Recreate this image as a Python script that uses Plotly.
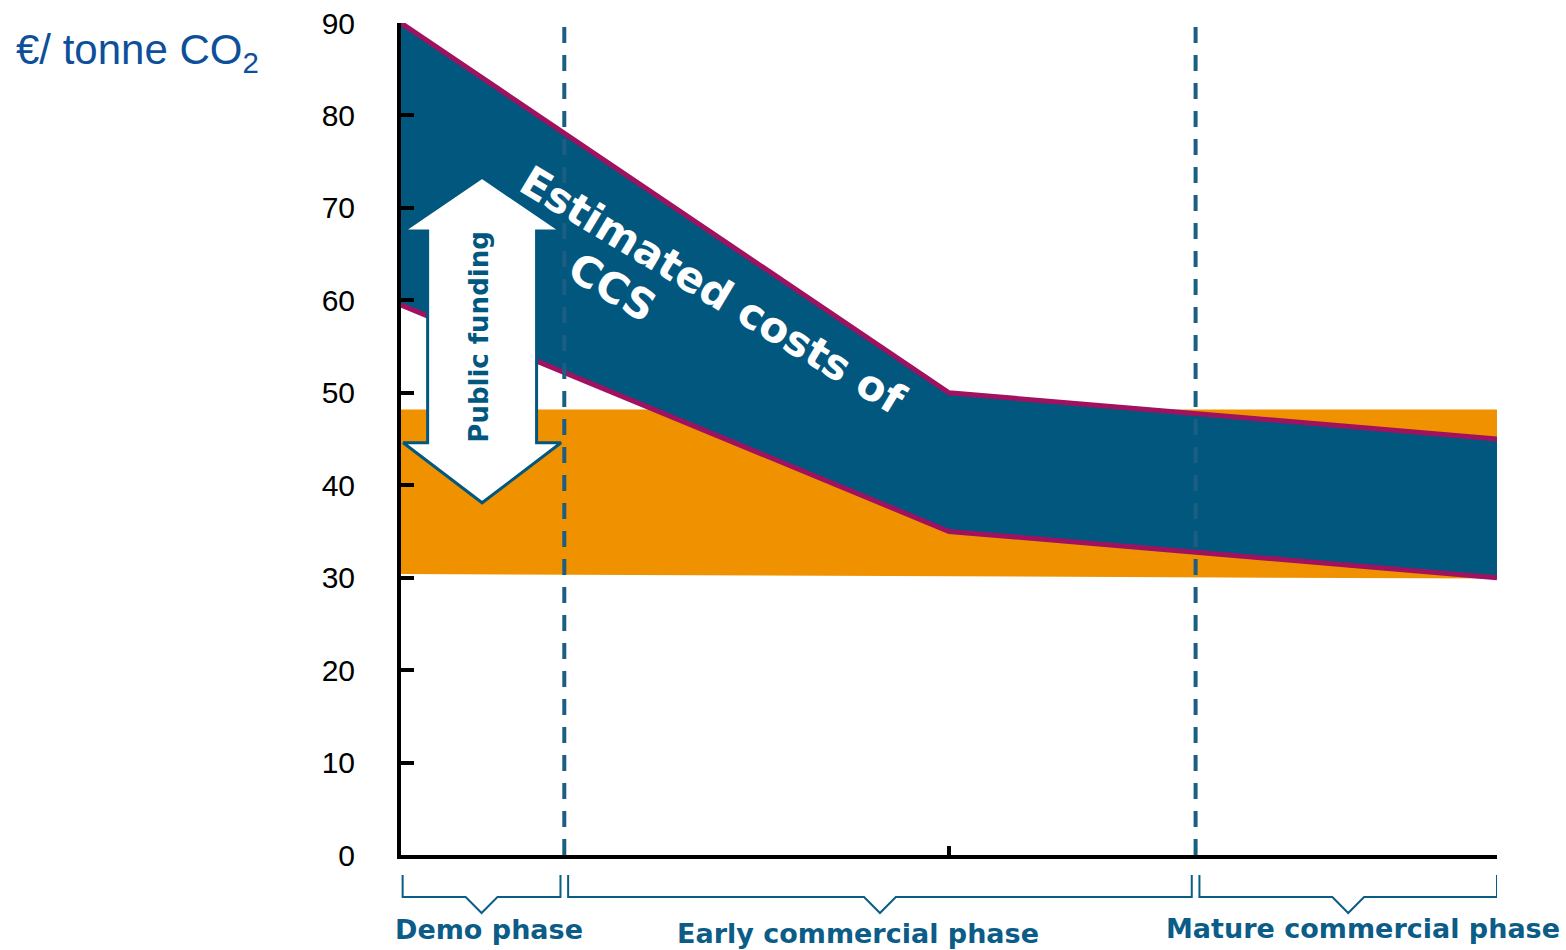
import plotly.graph_objects as go

# ---- data -------------------------------------------------------------
phase_x = [0, 50, 100]                 # start, knee, end of the time axis
ccs_high = [90, 50, 45]                # upper bound of estimated CCS cost (EUR/t CO2)
ccs_low = [59.5, 35, 30]               # lower bound of estimated CCS cost
co2_price_top = [48.2, 48.2]           # expected CO2 price band, top edge
co2_price_bottom = [30.4, 29.9]        # expected CO2 price band, bottom edge
phase_bounds = [0, 14.9, 72.5, 100]    # demo | early commercial | mature commercial
phase_labels = ["Demo phase", "Early commercial phase", "Mature commercial phase"]
y_ticks = [0, 10, 20, 30, 40, 50, 60, 70, 80, 90]

# public funding arrow (data units)
arrow_x = 7.4
arrow_top, arrow_head_top = 73.3, 67.5
arrow_bottom, arrow_head_bottom = 38.1, 44.6
arrow_shaft_half, arrow_head_half = 4.97, 7.2

# ---- styling ----------------------------------------------------------
BLUE = "#02577F"
DASH_BLUE = "#1B5E82"
MAGENTA = "#A0125F"
ORANGE = "#F09200"
TEXT_BLUE = "#0B5C87"
TITLE_BLUE = "#0D4F9A"
FONT = "Liberation Sans, Arial, sans-serif"
BOLD_FONT = "DejaVu Sans, Verdana, sans-serif"

W, H = 1566, 950
L, R, T, B = 401, 69, 23, 95
PW, PH = W - L - R, H - T - B


def px_x(px):
    return (px - L) / PW


def px_y(py):
    return (H - B - py) / PH


fig = go.Figure()

# CO2 price band
fig.add_trace(go.Scatter(
    x=[phase_x[0], phase_x[-1], phase_x[-1], phase_x[0]],
    y=[co2_price_top[0], co2_price_top[1], co2_price_bottom[1], co2_price_bottom[0]],
    fill="toself", fillcolor=ORANGE, line=dict(width=0), mode="lines",
    hoverinfo="skip", showlegend=False))

# CCS cost band
fig.add_trace(go.Scatter(
    x=phase_x + phase_x[::-1], y=ccs_high + ccs_low[::-1],
    fill="toself", fillcolor=BLUE, line=dict(width=0), mode="lines",
    hoverinfo="skip", showlegend=False))

for edge in (ccs_high, ccs_low):
    fig.add_trace(go.Scatter(
        x=phase_x, y=edge, mode="lines", line=dict(color=MAGENTA, width=5),
        hoverinfo="skip", showlegend=False))

# phase separators
for xb in phase_bounds[1:3]:
    fig.add_trace(go.Scatter(
        x=[xb, xb], y=[0, 90], mode="lines",
        line=dict(color=DASH_BLUE, width=4, dash="16px,12px"),
        hoverinfo="skip", showlegend=False))

# double-headed arrow
ax = [arrow_x, arrow_x + arrow_head_half, arrow_x + arrow_shaft_half, arrow_x + arrow_shaft_half,
      arrow_x + arrow_head_half, arrow_x, arrow_x - arrow_head_half, arrow_x - arrow_shaft_half,
      arrow_x - arrow_shaft_half, arrow_x - arrow_head_half, arrow_x]
ay = [arrow_top, arrow_head_top, arrow_head_top, arrow_head_bottom,
      arrow_head_bottom, arrow_bottom, arrow_head_bottom, arrow_head_bottom,
      arrow_head_top, arrow_head_top, arrow_top]
fig.add_trace(go.Scatter(
    x=ax, y=ay, fill="toself", fillcolor="white", mode="lines",
    line=dict(color=BLUE, width=3), hoverinfo="skip", showlegend=False))

annotations = [
    dict(x=arrow_x - 0.3, y=(arrow_head_top + arrow_head_bottom) / 2, xref="x", yref="y",
         text="<b>Public funding</b>", textangle=-90, showarrow=False,
         xanchor="center", yanchor="middle",
         font=dict(family=BOLD_FONT, size=26, color=BLUE)),
    dict(x=28.5, y=61.1, xref="x", yref="y", text="<b>Estimated costs of</b>",
         textangle=31, showarrow=False, xanchor="center", yanchor="middle",
         font=dict(family=BOLD_FONT, size=42, color="white")),
    dict(x=19.3, y=61.4, xref="x", yref="y", text="<b>CCS</b>",
         textangle=31, showarrow=False, xanchor="center", yanchor="middle",
         font=dict(family=BOLD_FONT, size=42, color="white")),
    dict(x=px_x(14), y=px_y(52), xref="paper", yref="paper", xanchor="left", yanchor="middle",
         text="€/ tonne CO<sub>2</sub>", showarrow=False,
         font=dict(family=FONT, size=42, color=TITLE_BLUE)),
]

# phase brackets and labels below the axis
label_centres_px = [(489, 929), (858, 933), (1363, 928)]
shapes = []
for i, lab in enumerate(phase_labels):
    x0, x1 = phase_bounds[i], phase_bounds[i + 1]
    gap = 0.35
    xa, xb = x0 + (gap if i > 0 else 0.15), x1 - (gap if i < 2 else 0)
    xm = (xa + xb) / 2
    v = 1.45
    ytop, ybar, ytip = px_y(875), px_y(897), px_y(913)
    path = (f"M {xa},{ytop} L {xa},{ybar} L {xm - v},{ybar} L {xm},{ytip} "
            f"L {xm + v},{ybar} L {xb},{ybar} L {xb},{ytop}")
    shapes.append(dict(type="path", path=path, xref="x", yref="paper",
                       line=dict(color=TEXT_BLUE, width=2)))
    cx, cy = label_centres_px[i]
    annotations.append(dict(x=px_x(cx), y=px_y(cy), xref="paper", yref="paper",
                            xanchor="center", yanchor="middle",
                            text=f"<b>{lab}</b>", showarrow=False,
                            font=dict(family=BOLD_FONT, size=27, color=TEXT_BLUE)))

fig.update_layout(
    width=W, height=H, margin=dict(l=L, r=R, t=T, b=B, autoexpand=False),
    paper_bgcolor="white", plot_bgcolor="white",
    showlegend=False, annotations=annotations, shapes=shapes,
    xaxis=dict(range=[0, 100], showgrid=False, zeroline=False, showline=True,
               linecolor="black", linewidth=4, ticks="inside", tickvals=[50, 100],
               ticklen=9, tickwidth=4, tickcolor="black", showticklabels=False,
               fixedrange=True, automargin=False),
    yaxis=dict(range=[0, 90], showgrid=False, zeroline=False, showline=True,
               linecolor="black", linewidth=4, ticks="inside", tickvals=y_ticks,
               ticklen=13, tickwidth=4, tickcolor="black", ticklabelstandoff=36,
               tickfont=dict(family=FONT, size=30, color="black"), fixedrange=True,
               automargin=False),
)

fig.write_html("out.html", config={"displayModeBar": False})
